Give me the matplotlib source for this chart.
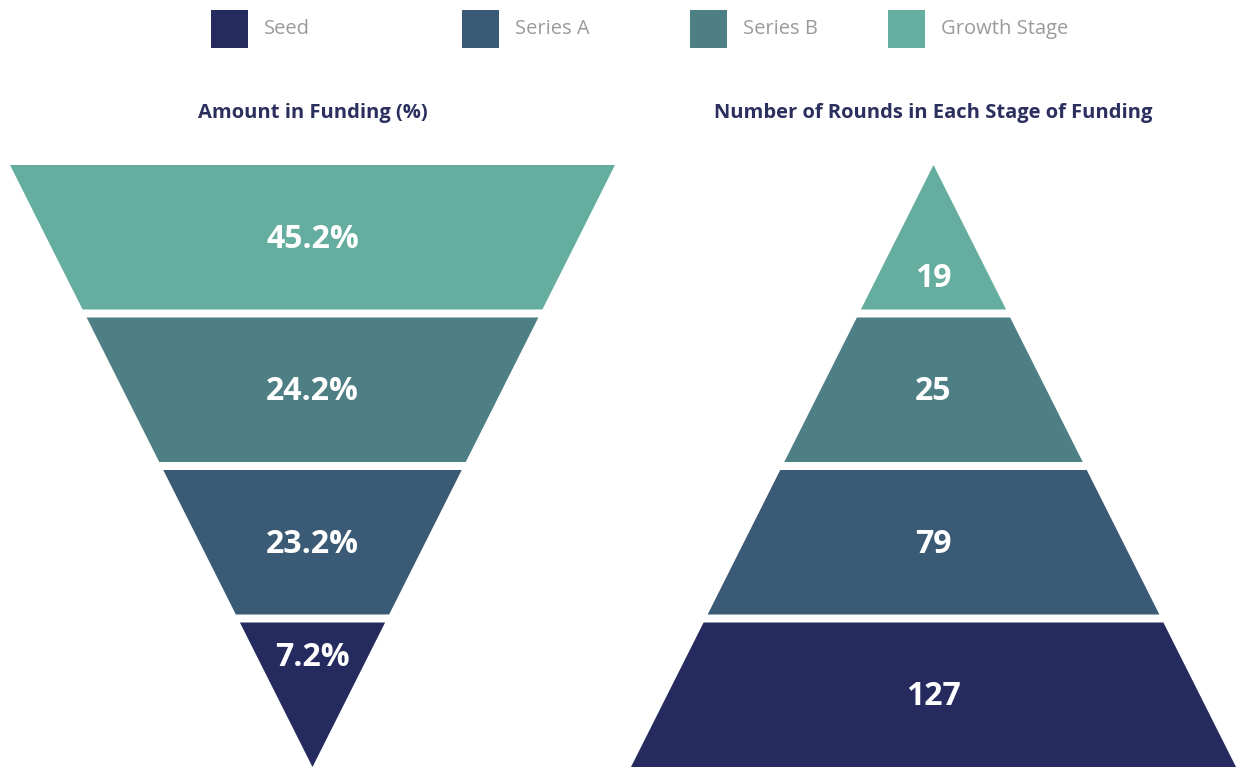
import matplotlib
matplotlib.use("Agg")
import matplotlib.pyplot as plt
from matplotlib.patches import Polygon, Rectangle

# ---- data ----
stages = ["Seed", "Series A", "Series B", "Growth Stage"]
colors = ["#252B5E", "#3B5A75", "#4E7F84", "#65AE9F"]
funding_pct = [7.2, 23.2, 24.2, 45.2]
rounds = [127, 79, 25, 19]
title_left = "Amount in Funding (%)"
title_right = "Number of Rounds in Each Stage of Funding"

# ---- layout ----
W, H = 1239, 767
fig = plt.figure(figsize=(W / 100, H / 100), dpi=100)
ax = fig.add_axes([0, 0, 1, 1])
ax.set_xlim(0, W)
ax.set_ylim(H, 0)
ax.axis("off")

FONT = "Open Sans"
top, bottom, gap = 165, 767, 8
n = len(stages)
band_h = (bottom - top - (n - 1) * gap) / n
left_cx, right_cx, half_w = 312.5, 933.5, 302.5


def half_width(y, inverted):
    frac = (y - top) / (bottom - top)
    return half_w * ((1 - frac) if inverted else frac)


def draw_funnel(cx, values, inverted, fmt):
    # top band is the last stage (Growth Stage)
    for i in range(n):
        idx = n - 1 - i
        y0 = top + i * (band_h + gap)
        y1 = y0 + band_h
        w0 = half_width(y0, inverted)
        w1 = half_width(y1, inverted)
        pts = [(cx - w0, y0), (cx + w0, y0), (cx + w1, y1), (cx - w1, y1)]
        ax.add_patch(Polygon(pts, closed=True, facecolor=colors[idx],
                             edgecolor="none"))
        # label position
        if min(w0, w1) < 1:  # triangle piece
            ly = y0 + band_h * (0.23 if inverted else 0.77)
        else:
            ly = (y0 + y1) / 2
        ax.text(cx, ly + 2, fmt(values[idx]), ha="center", va="center",
                color="white", fontsize=23, fontweight="bold", family=FONT)


draw_funnel(left_cx, funding_pct, True, lambda v: f"{v:.1f}%")
draw_funnel(right_cx, rounds, False, lambda v: f"{v}")

title_color = "#2B2F5E"
ax.text(left_cx, 113, title_left, ha="center", va="center", fontsize=14.5,
        fontweight="bold", color=title_color, family=FONT)
ax.text(right_cx, 113, title_right, ha="center", va="center", fontsize=14.5,
        fontweight="bold", color=title_color, family=FONT)

# legend
leg_x = [211, 462, 690, 888]
for x, lab, c in zip(leg_x, stages, colors):
    ax.add_patch(Rectangle((x, 10), 37, 38, facecolor=c, edgecolor="none"))
    ax.text(x + 53, 29, lab, ha="left", va="center", fontsize=14.5,
            color="#9A9A9A", family=FONT)

fig.savefig("out.png", dpi=100, facecolor="white")
